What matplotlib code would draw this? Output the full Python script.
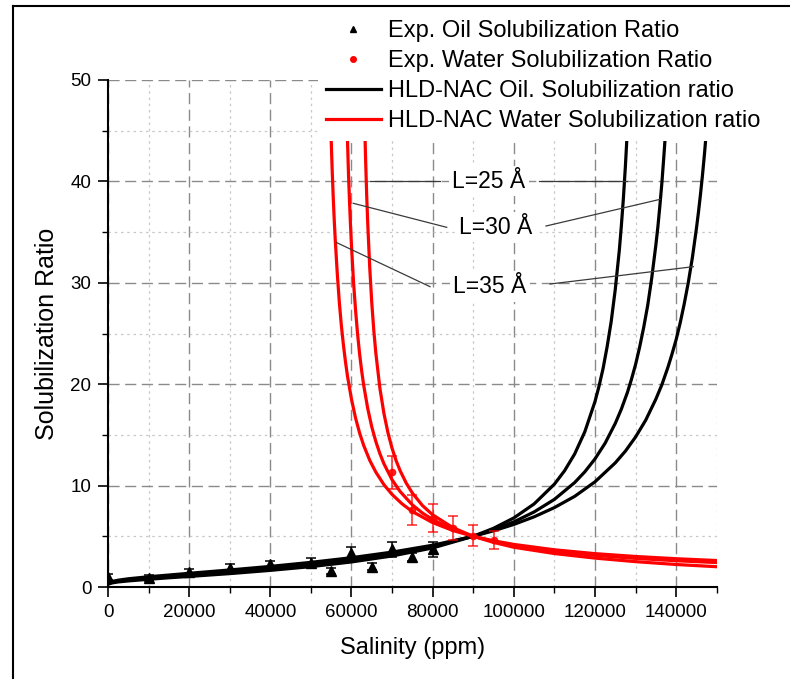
import matplotlib
matplotlib.use('Agg')
import matplotlib.pyplot as plt
from matplotlib.lines import Line2D
from matplotlib.ticker import MultipleLocator

plt.rcParams['font.family'] = ['Liberation Sans', 'DejaVu Sans']

# ---------------- data ----------------
sal_oil_exp = [0, 10000, 20000, 30000, 40000, 50000, 55000, 60000, 65000, 70000, 75000, 80000]
sr_oil_exp = [1.0, 0.9, 1.5, 1.9, 2.3, 2.4, 1.6, 3.4, 2.0, 3.7, 3.0, 3.7]
err_oil_exp = [0.3, 0.3, 0.3, 0.35, 0.3, 0.5, 0.3, 0.5, 0.35, 0.7, 0.4, 0.75]

sal_water_exp = [70000, 75000, 80000, 85000, 90000, 95000]
sr_water_exp = [11.3, 7.6, 6.8, 5.8, 5.05, 4.6]
err_water_exp = [1.65, 1.45, 1.4, 1.2, 1.05, 0.9]

sal_oil_L25 = [200, 1000, 2500, 5000, 10000, 15000, 20000, 30000, 40000, 50000, 60000, 70000,
               80000, 90000, 95000, 100000, 105000, 110000, 112500, 115000, 117500, 120000,
               121000, 122000, 123000, 124000, 125000, 126000, 126500, 127000, 127500, 128000,
               128500, 129000]
sr_oil_L25 = [0.30, 0.40, 0.50, 0.60, 0.76, 0.91, 1.04, 1.32, 1.64, 2.01, 2.47, 3.06,
              3.85, 5.0, 5.79, 6.81, 8.19, 10.14, 11.46, 13.12, 15.31, 18.28,
              19.80, 21.55, 23.70, 26.18, 29.33, 33.2, 35.6, 38.3, 41.5, 45.2,
              49.5, 54.9]

sal_oil_L30 = [200, 1000, 2500, 5000, 10000, 15000, 20000, 30000, 40000, 50000, 60000, 70000,
               80000, 90000, 95000, 100000, 105000, 110000, 115000, 117500, 120000, 122500,
               125000, 126500, 128000, 129000, 130000, 131000, 132000, 133000, 134000, 135000,
               135500, 136000, 136500, 137000, 137500, 138000, 138500]
sr_oil_L30 = [0.36, 0.48, 0.59, 0.71, 0.89, 1.05, 1.20, 1.51, 1.85, 2.24, 2.70, 3.27,
              4.01, 5.0, 5.64, 6.42, 7.40, 8.64, 10.30, 11.36, 12.63, 14.18,
              16.13, 17.54, 19.19, 20.49, 21.93, 23.64, 25.58, 27.78, 30.5, 33.7,
              35.5, 37.6, 39.9, 42.6, 45.45, 48.8, 52.8]

sal_oil_L35 = [200, 1000, 2500, 5000, 10000, 15000, 20000, 30000, 40000, 50000, 60000, 70000,
               80000, 90000, 95000, 100000, 105000, 110000, 115000, 120000, 125000, 127500,
               130000, 132500, 135000, 136500, 138000, 139000, 140000, 141000, 142000, 143000,
               144000, 145000, 145500, 146000, 146500, 147000, 147500, 148000, 148500, 149000]
sr_oil_L35 = [0.42, 0.55, 0.67, 0.81, 1.01, 1.18, 1.35, 1.68, 2.03, 2.43, 2.89, 3.44,
              4.12, 5.0, 5.54, 6.17, 6.92, 7.83, 8.94, 10.37, 12.24, 13.40,
              14.79, 16.45, 18.52, 19.96, 21.69, 22.99, 24.39, 26.04, 27.93, 30.03,
              32.47, 35.34, 36.95, 38.71, 40.63, 42.77, 45.13, 47.76, 50.7, 54.0]

sal_w_L25 = [63000, 63250, 63500, 63750, 64000, 64500, 65000, 65500, 66000, 67000, 68000, 69000,
             70000, 71000, 72000, 73500, 75000, 77500, 80000, 85000, 90000, 95000, 100000,
             110000, 120000, 130000, 140000, 150000]
sr_w_L25 = [50.3, 45.7, 41.9, 38.6, 35.9, 31.5, 28.03, 25.3, 23.07, 19.6, 17.11, 15.19,
            13.68, 12.46, 11.46, 10.24, 9.27, 8.03, 7.12, 5.85, 5.0, 4.40, 3.92,
            3.30, 2.85, 2.50, 2.22, 2.00]

sal_w_L30 = [58500, 58750, 59000, 59250, 59500, 59750, 60000, 60500, 61000, 61500, 62000, 62500,
             63000, 64000, 65000, 66000, 67000, 68000, 70000, 72000, 75000, 77500, 80000,
             85000, 90000, 95000, 100000, 110000, 120000, 130000, 140000, 150000]
sr_w_L30 = [52.4, 48.0, 44.25, 40.9, 38.17, 35.75, 33.67, 30.1, 27.32, 24.96, 22.99, 21.34,
            19.92, 17.61, 15.79, 14.35, 13.15, 12.15, 10.58, 9.41, 8.10, 7.29, 6.65,
            5.68, 5.0, 4.49, 4.09, 3.52, 3.12, 2.82, 2.59, 2.41]

sal_w_L35 = [54500, 54750, 55000, 55250, 55500, 55750, 56000, 56500, 57000, 57500, 58000, 58500,
             59000, 60000, 61000, 62000, 63000, 64500, 66000, 68000, 70000, 72500, 75000,
             80000, 85000, 90000, 95000, 100000, 110000, 120000, 130000, 140000, 150000]
sr_w_L35 = [51.5, 47.4, 44.05, 41.05, 38.46, 36.2, 34.25, 30.9, 28.09, 25.8, 23.92, 22.27,
            20.83, 18.52, 16.67, 15.19, 13.97, 12.49, 11.33, 10.09, 9.13, 8.19, 7.44,
            6.35, 5.57, 5.0, 4.56, 4.20, 3.67, 3.29, 3.01, 2.79, 2.61]

x_ticks = [0, 20000, 40000, 60000, 80000, 100000, 120000, 140000]
y_ticks = [0, 10, 20, 30, 40, 50]

legend_labels = ["Exp. Oil Solubilization Ratio", "Exp. Water Solubilization Ratio",
                 "HLD-NAC Oil. Solubilization ratio", "HLD-NAC Water Solubilization ratio"]

# annotation: label, text position, left leader, right leader
annotations = [
    ("L=25 Å", (93900, 40.0), ((64560, 81810), (40.0, 40.0)), ((106280, 127820), (40.0, 40.0))),
    ("L=30 Å", (95500, 35.5), ((60450, 83470), (37.84, 35.47)), ((107930, 136030), (35.6, 38.23))),
    ("L=35 Å", (94100, 29.6), ((56360, 79350), (33.96, 29.62)), ((108920, 144230), (29.88, 31.59))),
]

# ---------------- figure ----------------
W, H = 790, 679
fig = plt.figure(figsize=(W / 100, H / 100), dpi=100)
ax = fig.add_axes([108 / W, 1 - 587 / H, (716.7 - 108) / W, (587 - 80) / H])

# curves
for s, v in [(sal_oil_L25, sr_oil_L25), (sal_oil_L30, sr_oil_L30), (sal_oil_L35, sr_oil_L35)]:
    ax.plot(s, v, color='black', lw=2.3, zorder=3)
for s, v in [(sal_w_L25, sr_w_L25), (sal_w_L30, sr_w_L30), (sal_w_L35, sr_w_L35)]:
    ax.plot(s, v, color='#ff0000', lw=2.3, zorder=3)

# experimental data
ax.errorbar(sal_oil_exp, sr_oil_exp, yerr=err_oil_exp, fmt='^', color='black', ms=7.5,
            capsize=3.5, elinewidth=1.1, capthick=1.1, zorder=4)
ax.errorbar(sal_water_exp, sr_water_exp, yerr=err_water_exp, fmt='o', color='#ff0000', ms=4.5,
            capsize=3.5, elinewidth=1.1, capthick=1.1, zorder=4, alpha=0.85)

# annotations
for label, (tx, ty), (lx, ly), (rx, ry) in annotations:
    ax.text(tx, ty, label, ha='center', va='center', fontsize=16.5, zorder=5,
            bbox=dict(boxstyle='square,pad=0.15', fc='white', ec='none'))
    ax.plot(lx, ly, color='#3a3a3a', lw=0.9, zorder=6)
    ax.plot(rx, ry, color='#3a3a3a', lw=0.9, zorder=6)

# axes
ax.set_xlim(0, 150000)
ax.set_ylim(0, 50)
ax.set_xticks(x_ticks)
ax.set_yticks(y_ticks)
ax.set_xticklabels([str(t) for t in x_ticks], fontsize=13.5)
ax.set_yticklabels([str(t) for t in y_ticks], fontsize=13.5)
ax.xaxis.set_minor_locator(MultipleLocator(10000))
ax.yaxis.set_minor_locator(MultipleLocator(5))
ax.tick_params(which='major', direction='out', length=7, width=1.2)
ax.tick_params(which='minor', direction='out', length=4, width=1.0)
ax.tick_params(axis='x', which='major', pad=5)
ax.tick_params(axis='y', which='major', pad=5)

for side in ['top', 'right']:
    ax.spines[side].set_visible(False)
for side in ['left', 'bottom']:
    ax.spines[side].set_linewidth(1.5)

ax.set_axisbelow(True)
ax.grid(which='major', color='#8a8a8a', lw=1.0, ls=(0, (8, 4)))
ax.grid(which='minor', color='#c8c8c8', lw=0.9, ls=(0, (2, 3)))

ax.set_xlabel("Salinity (ppm)", fontsize=17, labelpad=12)
ax.set_ylabel("Solubilization Ratio", fontsize=18, labelpad=8)

# legend
handles = [
    Line2D([], [], marker='^', color='black', ls='none', ms=5),
    Line2D([], [], marker='o', color='#ff0000', ls='none', ms=4),
    Line2D([], [], color='black', lw=2.3),
    Line2D([], [], color='#ff0000', lw=2.3),
]
leg = ax.legend(handles, legend_labels, loc='upper left',
                bbox_to_anchor=(318 / W, 1 - 12 / H), bbox_transform=fig.transFigure,
                frameon=True, fancybox=False, edgecolor='none', facecolor='white', framealpha=1,
                fontsize=17, handlelength=2.3, handletextpad=0.3, labelspacing=0.34,
                borderpad=0.35, borderaxespad=0)
leg.set_zorder(10)

# figure frame (left and top edges visible)
fig.add_artist(Line2D([12.5 / W, 12.5 / W], [0, 1 - 6 / H], color='black', lw=1.5,
                      transform=fig.transFigure))
fig.add_artist(Line2D([12.5 / W, 1], [1 - 6 / H, 1 - 6 / H], color='black', lw=1.5,
                      transform=fig.transFigure))

fig.savefig('out.png', dpi=100)
